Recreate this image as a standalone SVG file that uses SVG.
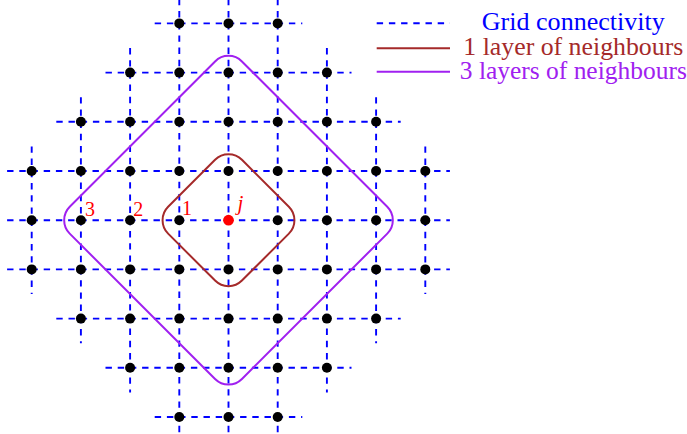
<svg xmlns="http://www.w3.org/2000/svg" width="687" height="434" viewBox="0 0 687 434">
<style>
.g{stroke:#0000FF;stroke-width:1.9;stroke-dasharray:6.4 5.8;fill:none}
.pt{fill:#000}
.br{stroke:#A52A2A;stroke-width:2;fill:none}
.pu{stroke:#A020F0;stroke-width:2;fill:none}
</style>
<rect width="687" height="434" fill="#fff"/>
<g id="connectors">
<line class="g" x1="154.7" y1="23.4" x2="302.3" y2="23.4"/>
<line class="g" x1="105.5" y1="72.6" x2="351.5" y2="72.6"/>
<line class="g" x1="56.3" y1="121.8" x2="400.7" y2="121.8"/>
<line class="g" x1="7.1" y1="171" x2="449.9" y2="171"/>
<line class="g" x1="7.1" y1="220.2" x2="449.9" y2="220.2"/>
<line class="g" x1="7.1" y1="269.4" x2="449.9" y2="269.4"/>
<line class="g" x1="56.3" y1="318.6" x2="400.7" y2="318.6"/>
<line class="g" x1="105.5" y1="367.8" x2="351.5" y2="367.8"/>
<line class="g" x1="154.7" y1="417" x2="302.3" y2="417"/>
<line class="g" x1="31.7" y1="146.4" x2="31.7" y2="294"/>
<line class="g" x1="80.9" y1="97.2" x2="80.9" y2="343.2"/>
<line class="g" x1="130.1" y1="48" x2="130.1" y2="392.4"/>
<line class="g" x1="179.3" y1="-1.2" x2="179.3" y2="441.6"/>
<line class="g" x1="228.5" y1="-1.2" x2="228.5" y2="441.6"/>
<line class="g" x1="277.7" y1="-1.2" x2="277.7" y2="441.6"/>
<line class="g" x1="326.9" y1="48" x2="326.9" y2="392.4"/>
<line class="g" x1="376.1" y1="97.2" x2="376.1" y2="343.2"/>
<line class="g" x1="425.3" y1="146.4" x2="425.3" y2="294"/>
</g>
<g id="neighbourhoods">
<path id="layer3" class="pu" d="M215.07,61.43 A19,19 0 0 1 241.93,61.43 L387.27,206.77 A19,19 0 0 1 387.27,233.63 L241.93,378.97 A19,19 0 0 1 215.07,378.97 L69.73,233.63 A19,19 0 0 1 69.73,206.77 Z"/>
<path id="layer1" class="br" d="M215.07,159.83 A19,19 0 0 1 241.93,159.83 L288.87,206.77 A19,19 0 0 1 288.87,233.63 L241.93,280.57 A19,19 0 0 1 215.07,280.57 L168.13,233.63 A19,19 0 0 1 168.13,206.77 Z"/>
</g>
<g id="nodes">
<g id="r0"><circle class="pt" cx="179.3" cy="23.4" r="5"/><circle class="pt" cx="228.5" cy="23.4" r="5"/><circle class="pt" cx="277.7" cy="23.4" r="5"/></g>
<g id="r1"><circle class="pt" cx="130.1" cy="72.6" r="5"/><circle class="pt" cx="179.3" cy="72.6" r="5"/><circle class="pt" cx="228.5" cy="72.6" r="5"/><circle class="pt" cx="277.7" cy="72.6" r="5"/><circle class="pt" cx="326.9" cy="72.6" r="5"/></g>
<g id="r2"><circle class="pt" cx="80.9" cy="121.8" r="5"/><circle class="pt" cx="130.1" cy="121.8" r="5"/><circle class="pt" cx="179.3" cy="121.8" r="5"/><circle class="pt" cx="228.5" cy="121.8" r="5"/><circle class="pt" cx="277.7" cy="121.8" r="5"/><circle class="pt" cx="326.9" cy="121.8" r="5"/><circle class="pt" cx="376.1" cy="121.8" r="5"/></g>
<g id="r3"><circle class="pt" cx="31.7" cy="171" r="5"/><circle class="pt" cx="80.9" cy="171" r="5"/><circle class="pt" cx="130.1" cy="171" r="5"/><circle class="pt" cx="179.3" cy="171" r="5"/><circle class="pt" cx="228.5" cy="171" r="5"/><circle class="pt" cx="277.7" cy="171" r="5"/><circle class="pt" cx="326.9" cy="171" r="5"/><circle class="pt" cx="376.1" cy="171" r="5"/><circle class="pt" cx="425.3" cy="171" r="5"/></g>
<g id="r4"><circle class="pt" cx="31.7" cy="220.2" r="5"/><circle class="pt" cx="80.9" cy="220.2" r="5"/><circle class="pt" cx="130.1" cy="220.2" r="5"/><circle class="pt" cx="179.3" cy="220.2" r="5"/><circle class="pt" cx="277.7" cy="220.2" r="5"/><circle class="pt" cx="326.9" cy="220.2" r="5"/><circle class="pt" cx="376.1" cy="220.2" r="5"/><circle class="pt" cx="425.3" cy="220.2" r="5"/></g>
<g id="r5"><circle class="pt" cx="31.7" cy="269.4" r="5"/><circle class="pt" cx="80.9" cy="269.4" r="5"/><circle class="pt" cx="130.1" cy="269.4" r="5"/><circle class="pt" cx="179.3" cy="269.4" r="5"/><circle class="pt" cx="228.5" cy="269.4" r="5"/><circle class="pt" cx="277.7" cy="269.4" r="5"/><circle class="pt" cx="326.9" cy="269.4" r="5"/><circle class="pt" cx="376.1" cy="269.4" r="5"/><circle class="pt" cx="425.3" cy="269.4" r="5"/></g>
<g id="r6"><circle class="pt" cx="80.9" cy="318.6" r="5"/><circle class="pt" cx="130.1" cy="318.6" r="5"/><circle class="pt" cx="179.3" cy="318.6" r="5"/><circle class="pt" cx="228.5" cy="318.6" r="5"/><circle class="pt" cx="277.7" cy="318.6" r="5"/><circle class="pt" cx="326.9" cy="318.6" r="5"/><circle class="pt" cx="376.1" cy="318.6" r="5"/></g>
<g id="r7"><circle class="pt" cx="130.1" cy="367.8" r="5"/><circle class="pt" cx="179.3" cy="367.8" r="5"/><circle class="pt" cx="228.5" cy="367.8" r="5"/><circle class="pt" cx="277.7" cy="367.8" r="5"/><circle class="pt" cx="326.9" cy="367.8" r="5"/></g>
<g id="r8"><circle class="pt" cx="179.3" cy="417" r="5"/><circle class="pt" cx="228.5" cy="417" r="5"/><circle class="pt" cx="277.7" cy="417" r="5"/></g>
<g id="node-j"><circle cx="228.5" cy="220.2" r="5.4" fill="#FF0000"/><text x="237.5" y="209.5" font-family="Liberation Serif, DejaVu Serif, serif" font-size="21" font-style="italic" fill="#FF0000">j</text></g>
</g>
<g id="labels" font-family="Liberation Serif, DejaVu Serif, serif" font-size="20" fill="#FF0000">
<text x="85" y="215.5">3</text>
<text x="133.3" y="215.5">2</text>
<text x="182" y="214.5">1</text>
</g>
<g id="legend">
<line class="g" x1="376.7" y1="23.3" x2="450" y2="23.3"/>
<line class="br" x1="376.7" y1="48.3" x2="450" y2="48.3"/>
<line class="pu" x1="376.7" y1="71.7" x2="450" y2="71.7"/>
<g font-family="Liberation Serif, DejaVu Serif, serif" font-size="25" text-anchor="middle">
<text x="573.3" y="29.5" fill="#0000FF" textLength="183" lengthAdjust="spacingAndGlyphs">Grid connectivity</text>
<text x="573.3" y="54.5" fill="#A52A2A" textLength="220" lengthAdjust="spacingAndGlyphs">1 layer of neighbours</text>
<text x="573.3" y="79.3" fill="#A020F0" textLength="227" lengthAdjust="spacingAndGlyphs">3 layers of neighbours</text>
</g>
</g>
</svg>
